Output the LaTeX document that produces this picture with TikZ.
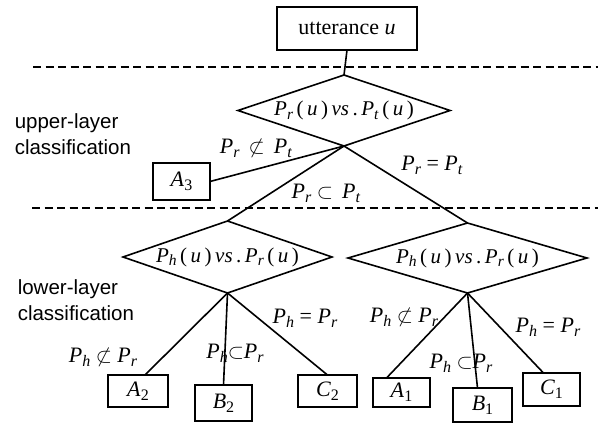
\documentclass[tikz,border=0pt]{standalone}
\usepackage{fontspec}
\setmainfont{Liberation Serif}
\newfontfamily\sidefont{Liberation Sans}
\usetikzlibrary{shapes.geometric}
\newcommand{\sbs}[1]{\raisebox{-4pt}{\fontsize{16}{16}\selectfont #1}}
\newcommand{\dsbs}[1]{\raisebox{-3.5pt}{\fontsize{15.5}{15.5}\selectfont #1}}
\newcommand{\myP}[1]{\textit{P}\sbs{\textit{#1}}}
\newcommand{\dP}[1]{\textit{P}\dsbs{\textit{#1}}}
\begin{document}
\begin{tikzpicture}[x=1pt,y=-1pt,line width=1.6pt,
  box/.style={draw,rectangle,inner sep=0pt,outer sep=0pt,font=\fontsize{22}{26}\selectfont},
  dia/.style={draw,diamond,inner sep=0pt,outer sep=0pt},
  dlbl/.style={inner sep=0pt,font=\fontsize{21}{24}\selectfont},
  lbl/.style={inner sep=0pt,font=\fontsize{22}{26}\selectfont},
  side/.style={font=\sidefont\fontsize{20.5}{26.5}\selectfont,align=left,inner sep=0pt,anchor=west},
  sep/.style={dash pattern=on 8pt off 4.5pt,line width=1.7pt}]
\useasboundingbox (0,0) rectangle (607,423);
% separators
\coordinate (s1a) at (33,67); \coordinate (s1b) at (598,67);
\coordinate (s2a) at (32,208); \coordinate (s2b) at (598,208);
\draw[sep] (s1a) -- (s1b);
\draw[sep] (s2a) -- (s2b);
% side labels
\node[side] (up) at (14,134) {upper-layer\\classification};
\node[side] (low) at (17,300) {lower-layer\\classification};
% top box
\node[box,minimum width=140pt,minimum height=43pt] (utt) at (347,28.5) {utterance \textit{u}};
% diamonds
\node[dia,minimum width=212pt,minimum height=71pt] (d0) at (344,110.5) {};
\node[dlbl] (t0) at (d0.center) {\dP{r}\,(\,\textit{u}\,)\,\textit{vs}\,.\,\dP{t}\,(\,\textit{u}\,)};
\node[dia,minimum width=209pt,minimum height=72pt] (d1) at (227.5,257) {};
\node[dlbl] (t1) at (d1.center) {\dP{h}\,(\,\textit{u}\,)\,\textit{vs}\,.\,\dP{r}\,(\,\textit{u}\,)};
\node[dia,minimum width=239pt,minimum height=70pt] (d2) at (467.5,258) {};
\node[dlbl] (t2) at (d2.center) {\dP{h}\,(\,\textit{u}\,)\,\textit{vs}\,.\,\dP{r}\,(\,\textit{u}\,)};
% leaf boxes
\node[box,minimum width=57pt,minimum height=37pt] (a3) at (181.5,181.5) {\textit{A}\sbs{3}};
\node[box,minimum width=60pt,minimum height=32pt] (a2) at (138,391) {\textit{A}\sbs{2}};
\node[box,minimum width=57pt,minimum height=36pt] (b2) at (223.5,403) {\textit{B}\sbs{2}};
\node[box,minimum width=59pt,minimum height=32pt] (c2) at (327.5,391) {\textit{C}\sbs{2}};
\node[box,minimum width=57pt,minimum height=29pt] (a1) at (401.5,392.5) {\textit{A}\sbs{1}};
\node[box,minimum width=59pt,minimum height=34pt] (b1) at (482.5,405) {\textit{B}\sbs{1}};
\node[box,minimum width=57pt,minimum height=33pt] (c1) at (551.5,389.5) {\textit{C}\sbs{1}};
% connectors
\draw (utt.south) -- (d0.north);
\draw (d0.south) -- (a3.east);
\draw (d0.south) -- (d1.north);
\draw (d0.south) -- (d2.north);
\draw (d1.south) -- ([xshift=7pt]a2.north);
\draw (d1.south) -- (b2.north);
\draw (d1.south) -- (c2.north);
\draw (d2.south) -- ([xshift=-15pt]a1.north);
\draw (d2.south) -- ([xshift=-5pt]b1.north);
\draw (d2.south) -- ([xshift=-8pt]c1.north);
% edge labels
\node[lbl] (e1) at (256,148) {\myP{r}\, $\not\subset$\, \myP{t}};
\node[lbl] (e2) at (326,193) {\myP{r} $\subset$\, \myP{t}};
\node[lbl] (e3) at (432,165) {\myP{r} = \myP{t}};
\node[lbl] (e4) at (103,357) {\myP{h} $\not\subset$ \myP{r}};
\node[lbl] (e5) at (235,353) {\myP{h}$\subset$\myP{r}};
\node[lbl] (e6) at (305,318) {\myP{h} = \myP{r}};
\node[lbl] (e7) at (404,317) {\myP{h} $\not\subset$ \myP{r}};
\node[lbl] (e8) at (461,363) {\myP{h} $\subset$\myP{r}};
\node[lbl] (e9) at (548,327) {\myP{h} = \myP{r}};
\end{tikzpicture}
\end{document}
